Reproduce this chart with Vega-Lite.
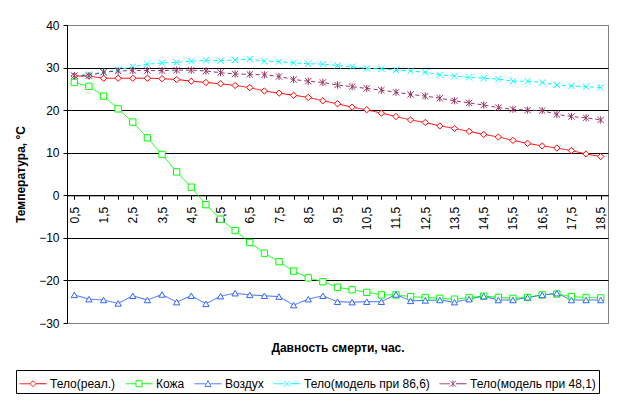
{
  "$schema": "https://vega.github.io/schema/vega-lite/v6.json",
  "autosize": {"type": "none"},
  "padding": {"left": 67, "top": 25, "right": 16, "bottom": 87},
  "width": 541,
  "height": 298,
  "background": "white",
  "data": {
    "values": [
      {"t": "0,5", "s": "Тело(реал.)", "v": 28.0}, {"t": "1", "s": "Тело(реал.)", "v": 28.0}, {"t": "1,5", "s": "Тело(реал.)", "v": 27.5}, {"t": "2", "s": "Тело(реал.)", "v": 27.5}, {"t": "2,5", "s": "Тело(реал.)", "v": 27.5}, {"t": "3", "s": "Тело(реал.)", "v": 27.5}, {"t": "3,5", "s": "Тело(реал.)", "v": 27.4}, {"t": "4", "s": "Тело(реал.)", "v": 27.2}, {"t": "4,5", "s": "Тело(реал.)", "v": 26.8}, {"t": "5", "s": "Тело(реал.)", "v": 26.5}, {"t": "5,5", "s": "Тело(реал.)", "v": 26.2}, {"t": "6", "s": "Тело(реал.)", "v": 25.8}, {"t": "6,5", "s": "Тело(реал.)", "v": 25.3}, {"t": "7", "s": "Тело(реал.)", "v": 24.5}, {"t": "7,5", "s": "Тело(реал.)", "v": 24.0}, {"t": "8", "s": "Тело(реал.)", "v": 23.5}, {"t": "8,5", "s": "Тело(реал.)", "v": 23.0}, {"t": "9", "s": "Тело(реал.)", "v": 22.2}, {"t": "9,5", "s": "Тело(реал.)", "v": 21.5}, {"t": "10", "s": "Тело(реал.)", "v": 20.7}, {"t": "10,5", "s": "Тело(реал.)", "v": 20.1}, {"t": "11", "s": "Тело(реал.)", "v": 19.3}, {"t": "11,5", "s": "Тело(реал.)", "v": 18.5}, {"t": "12", "s": "Тело(реал.)", "v": 17.7}, {"t": "12,5", "s": "Тело(реал.)", "v": 17.1}, {"t": "13", "s": "Тело(реал.)", "v": 16.3}, {"t": "13,5", "s": "Тело(реал.)", "v": 15.7}, {"t": "14", "s": "Тело(реал.)", "v": 15.0}, {"t": "14,5", "s": "Тело(реал.)", "v": 14.3}, {"t": "15", "s": "Тело(реал.)", "v": 13.7}, {"t": "15,5", "s": "Тело(реал.)", "v": 12.9}, {"t": "16", "s": "Тело(реал.)", "v": 12.2}, {"t": "16,5", "s": "Тело(реал.)", "v": 11.6}, {"t": "17", "s": "Тело(реал.)", "v": 11.1}, {"t": "17,5", "s": "Тело(реал.)", "v": 10.5}, {"t": "18", "s": "Тело(реал.)", "v": 9.7}, {"t": "18,5", "s": "Тело(реал.)", "v": 9.1},
      {"t": "0,5", "s": "Кожа", "v": 26.5}, {"t": "1", "s": "Кожа", "v": 25.6}, {"t": "1,5", "s": "Кожа", "v": 23.3}, {"t": "2", "s": "Кожа", "v": 20.3}, {"t": "2,5", "s": "Кожа", "v": 17.2}, {"t": "3", "s": "Кожа", "v": 13.5}, {"t": "3,5", "s": "Кожа", "v": 9.6}, {"t": "4", "s": "Кожа", "v": 5.5}, {"t": "4,5", "s": "Кожа", "v": 1.9}, {"t": "5", "s": "Кожа", "v": -2.2}, {"t": "5,5", "s": "Кожа", "v": -5.6}, {"t": "6", "s": "Кожа", "v": -8.3}, {"t": "6,5", "s": "Кожа", "v": -11.1}, {"t": "7", "s": "Кожа", "v": -13.6}, {"t": "7,5", "s": "Кожа", "v": -15.6}, {"t": "8", "s": "Кожа", "v": -17.8}, {"t": "8,5", "s": "Кожа", "v": -19.4}, {"t": "9", "s": "Кожа", "v": -20.3}, {"t": "9,5", "s": "Кожа", "v": -21.6}, {"t": "10", "s": "Кожа", "v": -22.2}, {"t": "10,5", "s": "Кожа", "v": -22.8}, {"t": "11", "s": "Кожа", "v": -23.4}, {"t": "11,5", "s": "Кожа", "v": -23.4}, {"t": "12", "s": "Кожа", "v": -23.8}, {"t": "12,5", "s": "Кожа", "v": -24.0}, {"t": "13", "s": "Кожа", "v": -24.2}, {"t": "13,5", "s": "Кожа", "v": -24.4}, {"t": "14", "s": "Кожа", "v": -24.0}, {"t": "14,5", "s": "Кожа", "v": -23.7}, {"t": "15", "s": "Кожа", "v": -24.0}, {"t": "15,5", "s": "Кожа", "v": -24.2}, {"t": "16", "s": "Кожа", "v": -24.0}, {"t": "16,5", "s": "Кожа", "v": -23.4}, {"t": "17", "s": "Кожа", "v": -23.2}, {"t": "17,5", "s": "Кожа", "v": -23.8}, {"t": "18", "s": "Кожа", "v": -24.0}, {"t": "18,5", "s": "Кожа", "v": -24.1},
      {"t": "0,5", "s": "Воздух", "v": -23.4}, {"t": "1", "s": "Воздух", "v": -24.4}, {"t": "1,5", "s": "Воздух", "v": -24.6}, {"t": "2", "s": "Воздух", "v": -25.4}, {"t": "2,5", "s": "Воздух", "v": -23.6}, {"t": "3", "s": "Воздух", "v": -24.6}, {"t": "3,5", "s": "Воздух", "v": -23.3}, {"t": "4", "s": "Воздух", "v": -25.1}, {"t": "4,5", "s": "Воздух", "v": -23.6}, {"t": "5", "s": "Воздух", "v": -25.5}, {"t": "5,5", "s": "Воздух", "v": -23.7}, {"t": "6", "s": "Воздух", "v": -23.0}, {"t": "6,5", "s": "Воздух", "v": -23.4}, {"t": "7", "s": "Воздух", "v": -23.6}, {"t": "7,5", "s": "Воздух", "v": -23.8}, {"t": "8", "s": "Воздух", "v": -25.8}, {"t": "8,5", "s": "Воздух", "v": -24.4}, {"t": "9", "s": "Воздух", "v": -23.6}, {"t": "9,5", "s": "Воздух", "v": -25.0}, {"t": "10", "s": "Воздух", "v": -25.1}, {"t": "10,5", "s": "Воздух", "v": -25.0}, {"t": "11", "s": "Воздух", "v": -25.0}, {"t": "11,5", "s": "Воздух", "v": -23.3}, {"t": "12", "s": "Воздух", "v": -24.8}, {"t": "12,5", "s": "Воздух", "v": -24.7}, {"t": "13", "s": "Воздух", "v": -24.6}, {"t": "13,5", "s": "Воздух", "v": -25.1}, {"t": "14", "s": "Воздух", "v": -24.4}, {"t": "14,5", "s": "Воздух", "v": -23.7}, {"t": "15", "s": "Воздух", "v": -24.6}, {"t": "15,5", "s": "Воздух", "v": -24.6}, {"t": "16", "s": "Воздух", "v": -24.0}, {"t": "16,5", "s": "Воздух", "v": -23.4}, {"t": "17", "s": "Воздух", "v": -23.0}, {"t": "17,5", "s": "Воздух", "v": -24.6}, {"t": "18", "s": "Воздух", "v": -24.6}, {"t": "18,5", "s": "Воздух", "v": -24.6},
      {"t": "0,5", "s": "Тело(модель при 86,6)", "v": 28.1}, {"t": "1", "s": "Тело(модель при 86,6)", "v": 28.4}, {"t": "1,5", "s": "Тело(модель при 86,6)", "v": 28.9}, {"t": "2", "s": "Тело(модель при 86,6)", "v": 29.5}, {"t": "2,5", "s": "Тело(модель при 86,6)", "v": 30.2}, {"t": "3", "s": "Тело(модель при 86,6)", "v": 30.8}, {"t": "3,5", "s": "Тело(модель при 86,6)", "v": 31.1}, {"t": "4", "s": "Тело(модель при 86,6)", "v": 31.2}, {"t": "4,5", "s": "Тело(модель при 86,6)", "v": 31.5}, {"t": "5", "s": "Тело(модель при 86,6)", "v": 31.7}, {"t": "5,5", "s": "Тело(модель при 86,6)", "v": 31.6}, {"t": "6", "s": "Тело(модель при 86,6)", "v": 31.8}, {"t": "6,5", "s": "Тело(модель при 86,6)", "v": 32.0}, {"t": "7", "s": "Тело(модель при 86,6)", "v": 31.5}, {"t": "7,5", "s": "Тело(модель при 86,6)", "v": 31.4}, {"t": "8", "s": "Тело(модель при 86,6)", "v": 31.1}, {"t": "8,5", "s": "Тело(модель при 86,6)", "v": 30.9}, {"t": "9", "s": "Тело(модель при 86,6)", "v": 30.8}, {"t": "9,5", "s": "Тело(модель при 86,6)", "v": 30.5}, {"t": "10", "s": "Тело(модель при 86,6)", "v": 30.2}, {"t": "10,5", "s": "Тело(модель при 86,6)", "v": 29.8}, {"t": "11", "s": "Тело(модель при 86,6)", "v": 29.7}, {"t": "11,5", "s": "Тело(модель при 86,6)", "v": 29.4}, {"t": "12", "s": "Тело(модель при 86,6)", "v": 29.2}, {"t": "12,5", "s": "Тело(модель при 86,6)", "v": 28.9}, {"t": "13", "s": "Тело(модель при 86,6)", "v": 28.3}, {"t": "13,5", "s": "Тело(модель при 86,6)", "v": 28.0}, {"t": "14", "s": "Тело(модель при 86,6)", "v": 27.7}, {"t": "14,5", "s": "Тело(модель при 86,6)", "v": 27.5}, {"t": "15", "s": "Тело(модель при 86,6)", "v": 27.3}, {"t": "15,5", "s": "Тело(модель при 86,6)", "v": 26.8}, {"t": "16", "s": "Тело(модель при 86,6)", "v": 26.8}, {"t": "16,5", "s": "Тело(модель при 86,6)", "v": 26.5}, {"t": "17", "s": "Тело(модель при 86,6)", "v": 25.9}, {"t": "17,5", "s": "Тело(модель при 86,6)", "v": 25.7}, {"t": "18", "s": "Тело(модель при 86,6)", "v": 25.5}, {"t": "18,5", "s": "Тело(модель при 86,6)", "v": 25.3},
      {"t": "0,5", "s": "Тело(модель при 48,1)", "v": 28.1}, {"t": "1", "s": "Тело(модель при 48,1)", "v": 28.1}, {"t": "1,5", "s": "Тело(модель при 48,1)", "v": 28.9}, {"t": "2", "s": "Тело(модель при 48,1)", "v": 29.2}, {"t": "2,5", "s": "Тело(модель при 48,1)", "v": 29.3}, {"t": "3", "s": "Тело(модель при 48,1)", "v": 29.3}, {"t": "3,5", "s": "Тело(модель при 48,1)", "v": 29.3}, {"t": "4", "s": "Тело(модель при 48,1)", "v": 29.4}, {"t": "4,5", "s": "Тело(модель при 48,1)", "v": 29.4}, {"t": "5", "s": "Тело(модель при 48,1)", "v": 29.2}, {"t": "5,5", "s": "Тело(модель при 48,1)", "v": 28.8}, {"t": "6", "s": "Тело(модель при 48,1)", "v": 28.5}, {"t": "6,5", "s": "Тело(модель при 48,1)", "v": 28.4}, {"t": "7", "s": "Тело(модель при 48,1)", "v": 28.3}, {"t": "7,5", "s": "Тело(модель при 48,1)", "v": 27.9}, {"t": "8", "s": "Тело(модель при 48,1)", "v": 27.2}, {"t": "8,5", "s": "Тело(модель при 48,1)", "v": 26.8}, {"t": "9", "s": "Тело(модель при 48,1)", "v": 26.5}, {"t": "9,5", "s": "Тело(модель при 48,1)", "v": 25.9}, {"t": "10", "s": "Тело(модель при 48,1)", "v": 25.5}, {"t": "10,5", "s": "Тело(модель при 48,1)", "v": 25.1}, {"t": "11", "s": "Тело(модель при 48,1)", "v": 24.7}, {"t": "11,5", "s": "Тело(модель при 48,1)", "v": 24.2}, {"t": "12", "s": "Тело(модель при 48,1)", "v": 23.7}, {"t": "12,5", "s": "Тело(модель при 48,1)", "v": 23.3}, {"t": "13", "s": "Тело(модель при 48,1)", "v": 22.8}, {"t": "13,5", "s": "Тело(модель при 48,1)", "v": 22.2}, {"t": "14", "s": "Тело(модель при 48,1)", "v": 21.7}, {"t": "14,5", "s": "Тело(модель при 48,1)", "v": 21.2}, {"t": "15", "s": "Тело(модель при 48,1)", "v": 20.6}, {"t": "15,5", "s": "Тело(модель при 48,1)", "v": 20.2}, {"t": "16", "s": "Тело(модель при 48,1)", "v": 20.0}, {"t": "16,5", "s": "Тело(модель при 48,1)", "v": 19.9}, {"t": "17", "s": "Тело(модель при 48,1)", "v": 19.0}, {"t": "17,5", "s": "Тело(модель при 48,1)", "v": 18.5}, {"t": "18", "s": "Тело(модель при 48,1)", "v": 18.2}, {"t": "18,5", "s": "Тело(модель при 48,1)", "v": 17.7}
    ]
  },
  "encoding": {
    "x": {
      "field": "t",
      "type": "nominal",
      "sort": null,
      "scale": {"paddingInner": 0, "paddingOuter": 0},
      "axis": {
        "title": "Давность смерти, час.",
        "titleY": 147,
        "offset": -127.7,
        "bandPosition": 0,
        "grid": false,
        "labelAngle": 270,
        "labelPadding": 7,
        "labelOverlap": false,
        "labelExpr": "indexof(datum.label, ',') >= 0 ? datum.label : ''"
      }
    },
    "y": {
      "field": "v",
      "type": "quantitative",
      "scale": {"domain": [-30, 40], "nice": false, "zero": false},
      "axis": {
        "title": "Температура, °С",
        "values": [-30, -20, -10, 0, 10, 20, 30, 40],
        "titlePadding": 11,
        "labelPadding": 4,
        "gridColor": {"condition": {"test": "datum.value === 40 || datum.value === -30", "value": "#808080"}, "value": "black"}
      }
    },
    "color": {
      "field": "s",
      "type": "nominal",
      "scale": {
        "domain": ["Тело(реал.)", "Кожа", "Воздух", "Тело(модель при 86,6)", "Тело(модель при 48,1)"],
        "range": ["#FF0000", "#00FF00", "#3366FF", "#00FFFF", "#993366"]
      },
      "legend": {
        "title": null,
        "orient": "none",
        "legendX": -51,
        "legendY": 345,
        "direction": "horizontal",
        "symbolSize": 400,
        "labelOffset": 10,
        "columnPadding": 7,
        "padding": 3,
        "strokeColor": "black",
        "fillColor": "white",
        "encode": {
          "symbols": {
            "update": {
              "shape": {"signal": "datum.value === 'Тело(реал.)' ? 'M-1,0L0.05,0M0.65,0L1.7,0M0.05,0L0.35,-0.3L0.65,0L0.35,0.3Z' : datum.value === 'Кожа' ? 'M-1,0L0.05,0M0.65,0L1.7,0M0.05,-0.3L0.65,-0.3L0.65,0.3L0.05,0.3Z' : datum.value === 'Воздух' ? 'M-1,0L0.1,0M0.6,0L1.7,0M0.05,0.27L0.35,-0.3L0.65,0.27Z' : datum.value === 'Тело(модель при 86,6)' ? 'M-1,0L0.05,0M0.65,0L1.7,0M0.05,-0.3L0.65,0.3M0.05,0.3L0.65,-0.3' : 'M-1,0L0.05,0M0.65,0L1.7,0M0.05,-0.3L0.65,0.3M0.05,0.3L0.65,-0.3M0.35,-0.33L0.35,0.33'"},
              "stroke": {"scale": "color", "field": "value"},
              "fill": {"value": "white"},
              "strokeWidth": {"value": 1},
              "strokeDash": {"value": [1, 0]},
              "opacity": {"value": 1}
            }
          }
        }
      }
    }
  },
  "layer": [
    {
      "mark": {
        "type": "line",
        "strokeWidth": 1,
        "strokeDash": {"expr": "indexof(datum.s, 'модель') >= 0 ? [4, 3] : [1, 0]"}
      }
    },
    {
      "mark": {
        "type": "point",
        "filled": false,
        "fill": "white",
        "fillOpacity": 1,
        "opacity": 1,
        "size": 40,
        "strokeWidth": 1,
        "shape": {"expr": "datum.s === 'Тело(реал.)' ? 'diamond' : datum.s === 'Кожа' ? 'square' : datum.s === 'Воздух' ? 'triangle-up' : datum.s === 'Тело(модель при 86,6)' ? 'M-1,-1L1,1M-1,1L1,-1' : 'M-1,-1L1,1M-1,1L1,-1M0,-1.15L0,1.15'"}
      }
    }
  ],
  "config": {
    "font": "Liberation Sans",
    "view": {"stroke": "#808080", "strokeWidth": 1},
    "axis": {
      "domainColor": "black",
      "tickColor": "black",
      "tickSize": 4,
      "labelColor": "black",
      "labelFont": "Liberation Sans",
      "labelFontSize": 12,
      "titleColor": "black",
      "titleFont": "Liberation Sans",
      "titleFontSize": 12,
      "titleFontWeight": "bold",
      "gridColor": "black",
      "gridOpacity": 1
    },
    "legend": {
      "labelFont": "Liberation Sans",
      "labelFontSize": 12,
      "labelColor": "black"
    }
  }
}
